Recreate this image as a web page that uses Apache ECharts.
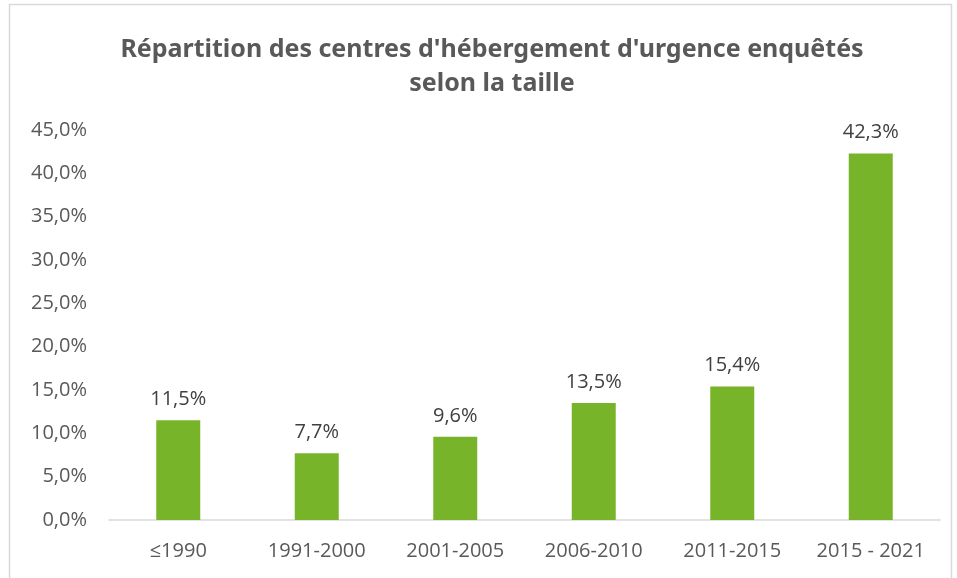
<!DOCTYPE html>
<html>
<head>
<meta charset="utf-8">
<script src="https://cdn.jsdelivr.net/npm/echarts@6/dist/echarts.min.js"></script>
<style>
  html, body { margin: 0; padding: 0; background: #fff; }
  #chart { width: 957px; height: 578px; }
</style>
</head>
<body>
<div id="chart"></div>
<script>
const categories = ['≤1990', '1991-2000', '2001-2005', '2006-2010', '2011-2015', '2015 - 2021']
const values = [11.5, 7.7, 9.6, 13.5, 15.4, 42.3]
const yMin = 0
const yMax = 45
const yStep = 5

const fmt = v => v.toFixed(1).replace('.', ',') + '%'
const font = '"Open Sans", "Noto Sans", sans-serif'

const chart = echarts.init(document.getElementById('chart'))
chart.setOption({
  animation: false,
  title: {
    text: "Répartition des centres d'hébergement d'urgence enquêtés\nselon la taille",
    left: 487,
    top: 28,
    textAlign: 'center',
    textStyle: {
      fontFamily: '"Noto Sans", sans-serif',
      fontSize: 25,
      fontWeight: 'bold',
      color: '#595959',
      lineHeight: 34,
    },
  },
  graphic: [{
    type: 'rect',
    shape: { x: 9.5, y: 4.5, width: 942, height: 590 },
    style: { fill: 'none', stroke: '#d9d9d9', lineWidth: 1.5 },
  }],
  grid: { left: 109, right: 17, top: 130, bottom: 58 },
  xAxis: {
    type: 'category',
    data: categories,
    axisLine: { lineStyle: { color: '#d9d9d9', width: 1.5 } },
    axisTick: { show: false },
    axisLabel: { color: '#595959', fontSize: 20, fontFamily: font, margin: 21, interval: 0, hideOverlap: false },
  },
  yAxis: {
    type: 'value',
    min: yMin,
    max: yMax,
    interval: yStep,
    splitLine: { show: false },
    axisLine: { show: false },
    axisTick: { show: false },
    axisLabel: { color: '#595959', fontSize: 20, fontFamily: font, margin: 22, formatter: fmt },
  },
  series: [{
    type: 'bar',
    data: values,
    barWidth: 44,
    itemStyle: { color: '#78b42a' },
    label: {
      show: true,
      position: 'top',
      distance: 11,
      color: '#404040',
      fontSize: 20,
      fontFamily: font,
      formatter: p => fmt(p.value),
    },
  }],
})
</script>
</body>
</html>
